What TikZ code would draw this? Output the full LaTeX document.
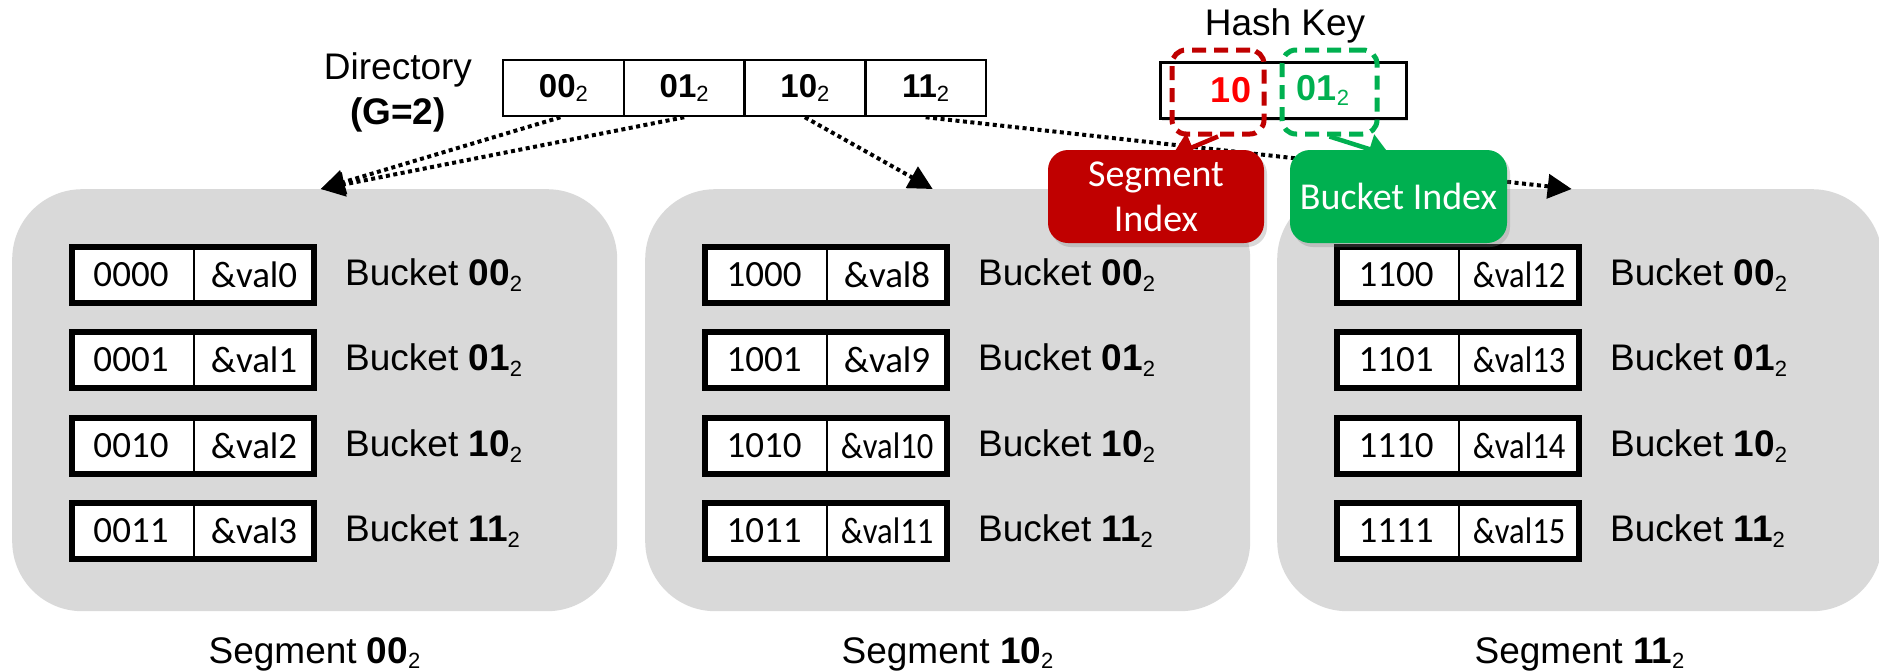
\documentclass[tikz,border=0pt]{standalone}
\usepackage{fontspec}
\setmainfont{Liberation Sans}
\newfontfamily\carlito{Carlito}
\usetikzlibrary{arrows.meta,shadows,calc}
\definecolor{seggray}{HTML}{D9D9D9}
\definecolor{dred}{HTML}{C00000}
\definecolor{pgreen}{HTML}{00B050}
\newcommand\bsub[1]{\raisebox{-0.14em}{\fontsize{22}{22}\selectfont\mdseries #1}}
\begin{document}
\begin{tikzpicture}[x=1pt,y=-1pt,
  seg/.style={fill=seggray, draw=none, rounded corners=70pt, minimum width=605pt, minimum height=422pt, anchor=north west, inner sep=0},
  lbl/.style={font=\fontsize{37}{45}\selectfont, inner sep=0},
  rowbox/.style={draw=black, line width=6pt, fill=white, minimum width=242pt, minimum height=56pt, inner sep=0},
  celltxt/.style={font=\carlito\fontsize{37}{40}\selectfont, inner sep=0},
  dircell/.style={draw=black, line width=2.5pt, fill=white, minimum width=120.75pt, minimum height=56pt, inner sep=0, font=\fontsize{33}{36}\selectfont},
  dotarrow/.style={line width=4pt, dash pattern=on 4pt off 3.5pt, -{Triangle[length=24pt,width=24pt]}},
  idxbox/.style={rounded corners=20pt, text=white, align=center, minimum width=216pt, minimum height=93pt, inner sep=0,
     font=\carlito\fontsize{38}{45}\selectfont, drop shadow={opacity=0.3, shadow xshift=3pt, shadow yshift=-4pt}},
  selbox/.style={line width=5pt, rounded corners=14pt, dash pattern=on 14pt off 8pt, minimum height=84pt, inner sep=0},
  colarrow/.style={line width=4.5pt, -{Triangle[length=22pt,width=30pt]}}
]
\useasboundingbox (0,0) rectangle (1879,670);

% segments
\foreach \sg/\sx/\sl in {0/12/00, 1/645/10, 2/1277/11} {
  \node[seg] (seg\sg) at (\sx,189) {};
  \node[lbl] (segl\sg) at (\sx+302.5,654) {Segment \textbf{\sl}\bsub{2}};
}

% directory
\node[lbl, align=center] (dirlbl) at (398,92) {Directory\\\textbf{(G=2)}};
\foreach \i/\t in {0/00,1/01,2/10,3/11} {
  \node[dircell] (d\i) at (563.4+\i*120.75,88) {\textbf{\t}\bsub{2}};
}

% dotted pointers
\draw[dotarrow] ($(d0.south)+(-3,0)$) -- ($(seg0.north)+(6,0)$);
\draw[dotarrow] (d1.south) -- ($(seg0.north)+(6,0)$);
\draw[dotarrow] (d2.south) -- ($(seg1.north)+(-15,0)$);
\draw[dotarrow] (d3.south) -- ($(seg2.north)+(-8,0)$);

% buckets
\foreach \sg/\sx/\pre/\vb in {0/12/00/0, 1/645/10/8, 2/1277/11/12} {
  \foreach \rr/\ry/\bk in {0/275/00, 1/360/01, 2/446/10, 3/531/11} {
    \pgfmathtruncatemacro\vv{\vb+\rr}
    \node[rowbox] (row\sg\rr) at (\sx+181,\ry) {};
    \draw[line width=2pt] ($(row\sg\rr.north west)+(125,0)$) -- ($(row\sg\rr.south west)+(125,0)$);
    \node[celltxt] (key\sg\rr) at ($(row\sg\rr.west)+(62,0)$) {\pre\bk};
    \node[celltxt] (val\sg\rr) at ($(row\sg\rr.west)+(185,0)$) {\ifnum\vv>9 \scalebox{0.88}[1]{\&val\vv}\else\&val\vv\fi};
    \node[lbl, anchor=west] (bl\sg\rr) at (\sx+333,\ry) {Bucket \textbf{\bk}\bsub{2}};
  }
}

% hash key
\node[lbl] (hk) at (1285,26) {Hash Key};
\node[draw=black, line width=3pt, fill=white, minimum width=246pt, minimum height=56pt, inner sep=0,
      drop shadow={opacity=0.25, shadow xshift=2pt, shadow yshift=-3pt}] (hbox) at (1283,90) {};
\node[font=\fontsize{36}{40}\selectfont\bfseries, text=red, inner sep=0] (ten) at (1231,90) {10};
\node[font=\fontsize{36}{40}\selectfont\bfseries, text=pgreen, inner sep=0] (one) at (1323,90) {01\bsub{2}};
\node[selbox, draw=dred, minimum width=92pt] (ssel) at (1218,92) {};
\node[selbox, draw=pgreen, minimum width=95pt] (bsel) at (1329.5,92) {};

% index boxes
\node[idxbox, fill=dred] (si) at (1156,196.5) {Segment\\Index};
\node[idxbox, fill=pgreen, minimum width=217pt] (bi) at (1398.5,196.5) {Bucket Index};

\draw[colarrow, dred] (ssel.south) -- ($(si.north)+(16,6)$);
\draw[colarrow, pgreen] (bsel.south) -- ($(bi.north)+(-8,6)$);
\end{tikzpicture}
\end{document}
